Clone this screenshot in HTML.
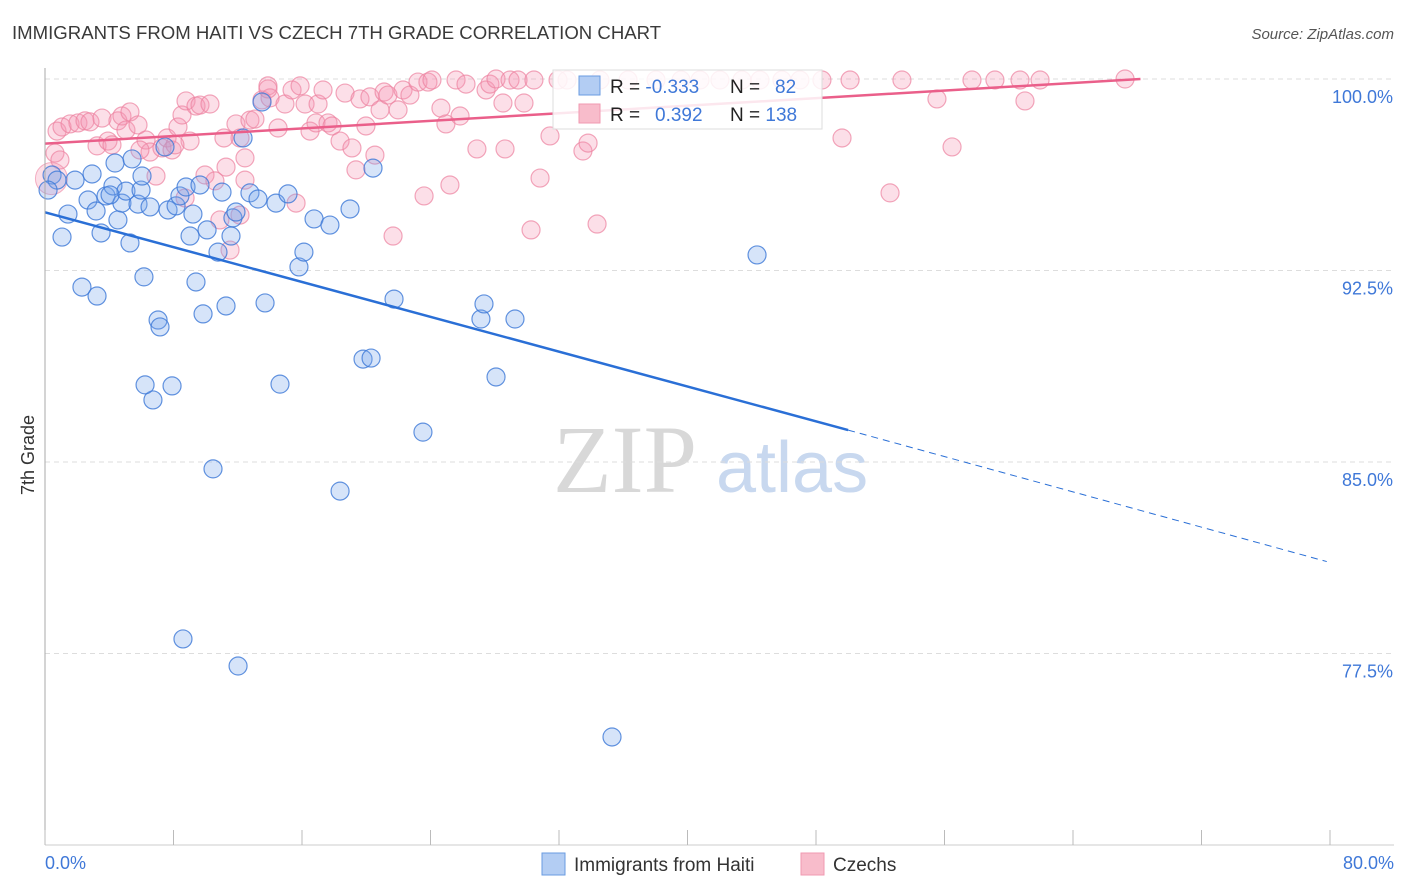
<!DOCTYPE html>
<html><head><meta charset="utf-8"><style>
body{margin:0;background:#fff;font-family:"Liberation Sans",sans-serif}
svg{display:block}
</style></head><body>
<svg id="c" width="1406" height="892" xmlns="http://www.w3.org/2000/svg">
<text x="12" y="39" font-size="18.6" fill="#3a3a3a">IMMIGRANTS FROM HAITI VS CZECH 7TH GRADE CORRELATION CHART</text>
<text x="1394" y="39" font-size="15" font-style="italic" fill="#555" text-anchor="end">Source: ZipAtlas.com</text>
<text x="34" y="455" font-size="18" fill="#333" transform="rotate(-90 34 455)" text-anchor="middle">7th Grade</text>
<g>
<text x="553" y="492" font-size="96" font-family="Liberation Serif,serif" fill="#d8d8d8">ZIP</text>
<text x="716" y="492" font-size="72" fill="#c8d8ef">atlas</text>
</g>
<g id="grid"></g><g id="pts"></g><g id="trend"></g>
<line x1="45" y1="68" x2="45" y2="845" stroke="#aaa"/>
<line x1="45" y1="845" x2="1394" y2="845" stroke="#ccc"/>
<g id="ticks"></g>
<text x="45" y="869" font-size="18" fill="#3f78d8">0.0%</text>
<text x="1394" y="869" font-size="18" fill="#3f78d8" text-anchor="end">80.0%</text>
<g>
<rect x="553" y="70" width="269" height="59" fill="#fff" fill-opacity="0.85" stroke="#ddd"/>
<rect x="579" y="76" width="21" height="19" fill="#b3cdf3" stroke="#6a9be0"/>
<rect x="579" y="104" width="21" height="19" fill="#f8bccb" stroke="#f09ab2"/>
<text x="610" y="93" font-size="19" fill="#222">R = <tspan fill="#3f78d8">-0.333</tspan></text>
<text x="730" y="93" font-size="19" fill="#222">N = <tspan fill="#3f78d8" x="775">82</tspan></text>
<text x="610" y="121" font-size="19" fill="#222">R = <tspan fill="#3f78d8" x="655">0.392</tspan></text>
<text x="730" y="121" font-size="19" fill="#222">N = <tspan fill="#3f78d8">138</tspan></text>
</g>
<g>
<rect x="542" y="853" width="23" height="22" fill="#b3cdf3" stroke="#6a9be0"/>
<text x="574" y="871" font-size="19" fill="#333">Immigrants from Haiti</text>
<rect x="801" y="853" width="23" height="22" fill="#f8bccb" stroke="#f09ab2"/>
<text x="833" y="871" font-size="19" fill="#333">Czechs</text>
</g>
</svg>
<script>
const yTicks=[100,92.5,85,77.5];
const yTickLabels=["100.0%","92.5%","85.0%","77.5%"];
const xTicks=[0,8,16,24,32,40,48,56,64,72,80];
const bluePx=[[52,175],[57,180],[62,237],[68,214],[75,180],[82,287],[88,200],[92,174],[97,296],[101,233],[106,196],[113,186],[115,163],[118,220],[122,203],[126,191],[130,243],[132,159],[138,204],[141,190],[144,277],[150,207],[153,400],[158,320],[160,327],[165,147],[168,210],[172,386],[176,206],[180,196],[183,639],[186,187],[190,236],[193,214],[196,282],[200,185],[203,314],[207,230],[213,469],[218,252],[222,192],[226,306],[231,236],[233,218],[236,212],[238,666],[243,138],[250,193],[258,199],[262,102],[265,303],[276,203],[280,384],[288,194],[299,267],[304,252],[314,219],[330,225],[340,491],[350,209],[363,359],[371,358],[373,168],[394,299],[423,432],[481,319],[484,304],[496,377],[515,319],[612,737],[757,255],[145,385],[96,211],[142,176],[48,190],[110,195]];
const pinkPx=[[55,153],[57,131],[62,127],[70,124],[78,123],[85,121],[90,122],[97,146],[102,118],[108,141],[112,145],[118,121],[122,116],[126,130],[130,112],[138,125],[146,140],[150,152],[156,176],[162,148],[167,138],[172,150],[178,127],[182,115],[186,101],[190,141],[196,106],[200,105],[205,175],[210,104],[215,181],[220,220],[226,167],[230,250],[236,124],[240,138],[245,158],[250,120],[255,119],[262,100],[268,86],[270,98],[278,128],[285,104],[292,90],[296,203],[300,86],[305,104],[310,131],[316,123],[318,104],[323,90],[328,123],[332,126],[340,141],[345,93],[352,148],[356,170],[360,99],[366,126],[370,97],[375,155],[380,110],[384,92],[388,95],[393,236],[398,110],[403,90],[410,95],[418,82],[424,196],[428,82],[432,80],[441,108],[446,124],[450,185],[456,80],[460,116],[466,84],[477,149],[486,90],[490,84],[496,79],[503,103],[505,149],[510,80],[518,80],[524,103],[531,230],[534,80],[540,178],[550,136],[558,80],[567,80],[583,151],[588,143],[597,224],[600,80],[628,80],[656,80],[681,80],[700,80],[720,80],[742,80],[760,80],[782,80],[800,80],[822,80],[842,138],[850,80],[890,193],[902,80],[937,99],[952,147],[972,80],[995,80],[1020,80],[1025,101],[1040,80],[1125,79],[268,89],[240,215],[224,138],[185,198],[245,180],[60,160],[140,150],[175,145]];
// convert reading to data values (%)
const blueX=bluePx.map(p=>+((p[0]-45)*80/1285).toFixed(2));
const blueY=bluePx.map(p=>+(100-(p[1]-79)*7.5/191.5).toFixed(2));
const pinkX=pinkPx.map(p=>+((p[0]-45)*80/1285).toFixed(2));
const pinkY=pinkPx.map(p=>+(100-(p[1]-79)*7.5/191.5).toFixed(2));
const blueTrend=[[0,94.78],[50,86.25],[79.8,81.1]];
const pinkTrend=[[0,97.47],[68.2,100]];
const NS="http://www.w3.org/2000/svg";
const X=v=>45+v/80*1285, Y=v=>79+(100-v)/7.5*191.5;
function mk(t,a,p){const e=document.createElementNS(NS,t);for(const k in a)e.setAttribute(k,a[k]);p.appendChild(e);return e;}
const grid=document.getElementById('grid'),ticks=document.getElementById('ticks');
yTicks.forEach((v,i)=>{
 const l=mk('line',{x1:45,x2:1394,y1:Y(v),y2:Y(v),stroke:'#ddd','stroke-dasharray':'5,4'},grid);
 
 
 const t=mk('text',{x:1393,y:Y(v)+24,'font-size':18,fill:'#3f78d8','text-anchor':'end'},ticks);
 t.textContent=yTickLabels[i];
 
 
});
xTicks.forEach(v=>{
 const l=mk('line',{x1:X(v),x2:X(v),y1:830,y2:845,stroke:'#bbb'},ticks);
 
 
});
const pts=document.getElementById('pts');
pinkX.forEach((x,i)=>{
 const c=mk('circle',{cx:X(x),cy:Y(pinkY[i]),r:9,fill:'rgba(244,150,178,0.3)',stroke:'rgba(236,130,160,0.7)','stroke-width':1.2},pts);
 
 
});
const big=mk('circle',{cx:X(0.4),cy:Y(96.1),r:16,fill:'rgba(244,150,178,0.3)',stroke:'rgba(236,130,160,0.6)'},pts);


blueX.forEach((x,i)=>{
 const c=mk('circle',{cx:X(x),cy:Y(blueY[i]),r:9,fill:'rgba(120,165,235,0.3)',stroke:'rgba(60,120,215,0.8)','stroke-width':1.2},pts);
 
 
});
const tr=document.getElementById('trend');
const b1=mk('line',{x1:X(blueTrend[0][0]),y1:Y(blueTrend[0][1]),x2:X(blueTrend[1][0]),y2:Y(blueTrend[1][1]),stroke:'#2a6fd6','stroke-width':2.5},tr);


const b2=mk('line',{x1:X(blueTrend[1][0]),y1:Y(blueTrend[1][1]),x2:X(blueTrend[2][0]),y2:Y(blueTrend[2][1]),stroke:'#2a6fd6','stroke-width':1,'stroke-dasharray':'7,5'},tr);


const p1=mk('line',{x1:X(pinkTrend[0][0]),y1:Y(pinkTrend[0][1]),x2:X(pinkTrend[1][0]),y2:Y(pinkTrend[1][1]),stroke:'#ea5f8a','stroke-width':2.5},tr);


</script>
</body></html>
